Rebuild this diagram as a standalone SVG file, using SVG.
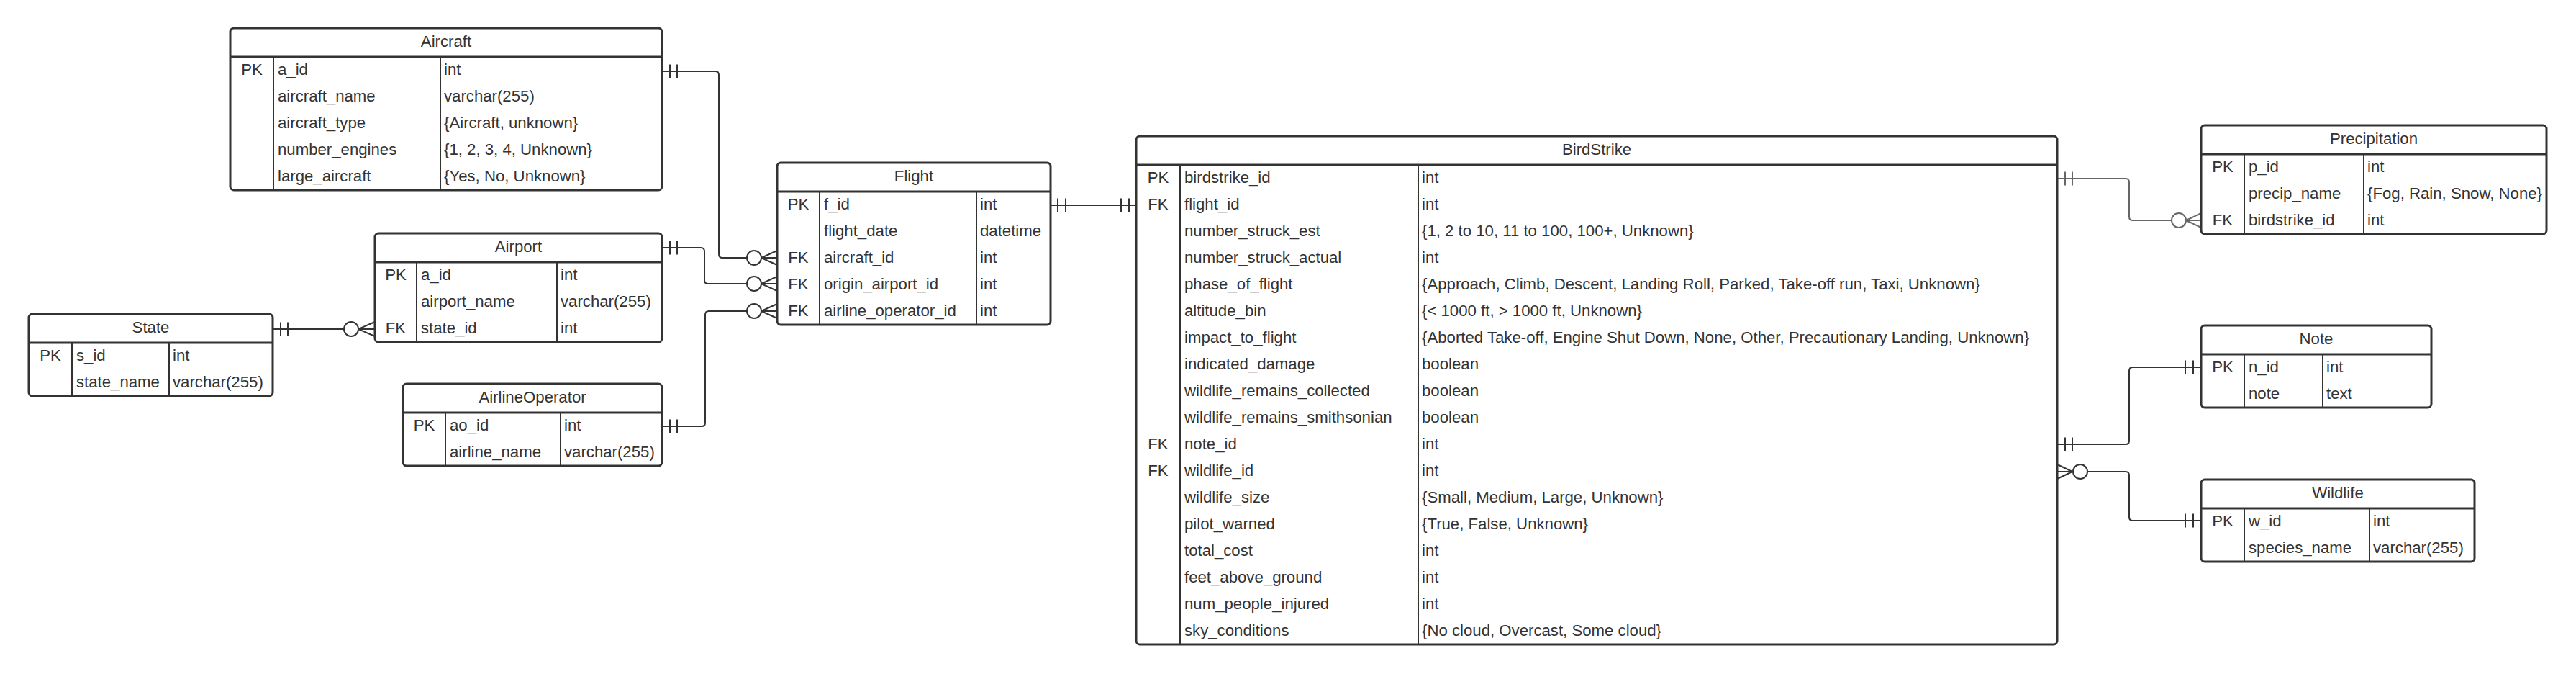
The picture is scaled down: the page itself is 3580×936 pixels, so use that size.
<svg xmlns="http://www.w3.org/2000/svg" width="3580" height="936" viewBox="0 0 3580 936">
<style>
.box{fill:#fff;stroke:#333;stroke-width:3}
.hl{stroke:#333;stroke-width:3}
.dv{stroke:#333;stroke-width:2}
text{font-family:"Liberation Sans",Arial,sans-serif;font-size:22.2px;fill:#333}
.m{text-anchor:middle}
.c{fill:none;stroke:#333;stroke-width:2;stroke-linejoin:round}
.cg{fill:none;stroke:#666;stroke-width:2;stroke-linejoin:round}
.o{fill:#fff;stroke:#333;stroke-width:2}
.og{fill:#fff;stroke:#666;stroke-width:2}
</style>
<rect width="3580" height="936" fill="#fff"/>

<g id="connectors">
  <!-- Aircraft -> Flight -->
  <path class="c" d="M920,99 H994 Q999,99 999,104 V353 Q999,358 1004,358 H1038"/>
  <path class="c" d="M931,89.5 V108.5 M941,89.5 V108.5"/>
  <circle class="o" cx="1048" cy="358" r="10"/>
  <path class="c" d="M1058,358 L1080,348 M1058,358 H1080 M1058,358 L1080,368"/>
  <!-- Airport -> Flight -->
  <path class="c" d="M920,344 H974 Q979,344 979,349 V389 Q979,394 984,394 H1038"/>
  <path class="c" d="M931,334.5 V353.5 M941,334.5 V353.5"/>
  <circle class="o" cx="1048" cy="394" r="10"/>
  <path class="c" d="M1058,394 L1080,384 M1058,394 H1080 M1058,394 L1080,404"/>
  <!-- AirlineOperator -> Flight -->
  <path class="c" d="M920,592 H975 Q980,592 980,587 V437 Q980,432 985,432 H1038"/>
  <path class="c" d="M931,582.5 V601.5 M941,582.5 V601.5"/>
  <circle class="o" cx="1048" cy="432" r="10"/>
  <path class="c" d="M1058,432 L1080,422 M1058,432 H1080 M1058,432 L1080,442"/>
  <!-- State -> Airport -->
  <path class="c" d="M379,457 H478"/>
  <path class="c" d="M390,447.5 V466.5 M400,447.5 V466.5"/>
  <circle class="o" cx="488" cy="457" r="10"/>
  <path class="c" d="M498,457 L521,447 M498,457 H521 M498,457 L521,467"/>
  <!-- Flight -> BirdStrike -->
  <path class="c" d="M1460,285 H1579"/>
  <path class="c" d="M1470,275.5 V294.5 M1481,275.5 V294.5 M1558,275.5 V294.5 M1569,275.5 V294.5"/>
  <!-- BirdStrike -> Precipitation -->
  <path class="cg" d="M2859,248 H2954 Q2959,248 2959,253 V301 Q2959,306 2964,306 H3018"/>
  <path class="cg" d="M2870,238.5 V257.5 M2880,238.5 V257.5"/>
  <circle class="og" cx="3028" cy="306" r="10"/>
  <path class="cg" d="M3038,306 L3059,296 M3038,306 H3059 M3038,306 L3059,316"/>
  <!-- BirdStrike -> Note -->
  <path class="c" d="M2859,617 H2954 Q2959,617 2959,612 V515 Q2959,510 2964,510 H3059"/>
  <path class="c" d="M2870,607.5 V626.5 M2880,607.5 V626.5 M3037,500.5 V519.5 M3048,500.5 V519.5"/>
  <!-- BirdStrike -> Wildlife -->
  <path class="c" d="M2880,655 L2859,645 M2880,655 H2859 M2880,655 L2859,665"/>
  <circle class="o" cx="2891" cy="655" r="10"/>
  <path class="c" d="M2901,655 H2954 Q2959,655 2959,660 V718 Q2959,723 2964,723 H3059"/>
  <path class="c" d="M3037,713.5 V732.5 M3048,713.5 V732.5"/>
</g>

<g id="Aircraft">
  <rect class="box" x="320" y="39" width="600" height="225" rx="5"/>
  <line class="hl" x1="320" y1="79" x2="920" y2="79"/>
  <line class="dv" x1="380" y1="79" x2="380" y2="264"/>
  <line class="dv" x1="612" y1="79" x2="612" y2="264"/>
  <text class="m" x="620" y="65">Aircraft</text>
  <text class="m" x="350" y="104">PK</text>
  <text x="386" y="104">a_id</text><text x="617" y="104">int</text>
  <text x="386" y="141">aircraft_name</text><text x="617" y="141">varchar(255)</text>
  <text x="386" y="178">aircraft_type</text><text x="617" y="178">{Aircraft, unknown}</text>
  <text x="386" y="215">number_engines</text><text x="617" y="215">{1, 2, 3, 4, Unknown}</text>
  <text x="386" y="252">large_aircraft</text><text x="617" y="252">{Yes, No, Unknown}</text>
</g>

<g id="Airport">
  <rect class="box" x="521" y="324" width="399" height="151" rx="5"/>
  <line class="hl" x1="521" y1="364" x2="920" y2="364"/>
  <line class="dv" x1="579" y1="364" x2="579" y2="475"/>
  <line class="dv" x1="774" y1="364" x2="774" y2="475"/>
  <text class="m" x="720.5" y="350">Airport</text>
  <text class="m" x="550" y="389">PK</text>
  <text x="585" y="389">a_id</text><text x="779" y="389">int</text>
  <text x="585" y="426">airport_name</text><text x="779" y="426">varchar(255)</text>
  <text class="m" x="550" y="463">FK</text>
  <text x="585" y="463">state_id</text><text x="779" y="463">int</text>
</g>

<g id="State">
  <rect class="box" x="40" y="436" width="339" height="114" rx="5"/>
  <line class="hl" x1="40" y1="476" x2="379" y2="476"/>
  <line class="dv" x1="100" y1="476" x2="100" y2="550"/>
  <line class="dv" x1="235" y1="476" x2="235" y2="550"/>
  <text class="m" x="209.5" y="462">State</text>
  <text class="m" x="70" y="501">PK</text>
  <text x="106" y="501">s_id</text><text x="240" y="501">int</text>
  <text x="106" y="538">state_name</text><text x="240" y="538">varchar(255)</text>
</g>

<g id="AirlineOperator">
  <rect class="box" x="560" y="533" width="360" height="114" rx="5"/>
  <line class="hl" x1="560" y1="573" x2="920" y2="573"/>
  <line class="dv" x1="619" y1="573" x2="619" y2="647"/>
  <line class="dv" x1="779" y1="573" x2="779" y2="647"/>
  <text class="m" x="740" y="559">AirlineOperator</text>
  <text class="m" x="589.5" y="598">PK</text>
  <text x="625" y="598">ao_id</text><text x="784" y="598">int</text>
  <text x="625" y="635">airline_name</text><text x="784" y="635">varchar(255)</text>
</g>

<g id="Flight">
  <rect class="box" x="1080" y="226" width="380" height="225" rx="5"/>
  <line class="hl" x1="1080" y1="266" x2="1460" y2="266"/>
  <line class="dv" x1="1139" y1="266" x2="1139" y2="451"/>
  <line class="dv" x1="1357" y1="266" x2="1357" y2="451"/>
  <text class="m" x="1270" y="252">Flight</text>
  <text class="m" x="1109.5" y="291">PK</text>
  <text x="1145" y="291">f_id</text><text x="1362" y="291">int</text>
  <text x="1145" y="328">flight_date</text><text x="1362" y="328">datetime</text>
  <text class="m" x="1109.5" y="365">FK</text>
  <text x="1145" y="365">aircraft_id</text><text x="1362" y="365">int</text>
  <text class="m" x="1109.5" y="402">FK</text>
  <text x="1145" y="402">origin_airport_id</text><text x="1362" y="402">int</text>
  <text class="m" x="1109.5" y="439">FK</text>
  <text x="1145" y="439">airline_operator_id</text><text x="1362" y="439">int</text>
</g>

<g id="BirdStrike">
  <rect class="box" x="1579" y="189" width="1280" height="706" rx="5"/>
  <line class="hl" x1="1579" y1="229" x2="2859" y2="229"/>
  <line class="dv" x1="1640" y1="229" x2="1640" y2="895"/>
  <line class="dv" x1="1971" y1="229" x2="1971" y2="895"/>
  <text class="m" x="2219" y="215">BirdStrike</text>
  <text class="m" x="1609.5" y="254">PK</text>
  <text x="1646" y="254">birdstrike_id</text><text x="1976" y="254">int</text>
  <text class="m" x="1609.5" y="291">FK</text>
  <text x="1646" y="291">flight_id</text><text x="1976" y="291">int</text>
  <text x="1646" y="328">number_struck_est</text><text x="1976" y="328">{1, 2 to 10, 11 to 100, 100+, Unknown}</text>
  <text x="1646" y="365">number_struck_actual</text><text x="1976" y="365">int</text>
  <text x="1646" y="402">phase_of_flight</text><text x="1976" y="402">{Approach, Climb, Descent, Landing Roll, Parked, Take-off run, Taxi, Unknown}</text>
  <text x="1646" y="439">altitude_bin</text><text x="1976" y="439">{&lt; 1000 ft, &gt; 1000 ft, Unknown}</text>
  <text x="1646" y="476">impact_to_flight</text><text x="1976" y="476">{Aborted Take-off, Engine Shut Down, None, Other, Precautionary Landing, Unknown}</text>
  <text x="1646" y="513">indicated_damage</text><text x="1976" y="513">boolean</text>
  <text x="1646" y="550">wildlife_remains_collected</text><text x="1976" y="550">boolean</text>
  <text x="1646" y="587">wildlife_remains_smithsonian</text><text x="1976" y="587">boolean</text>
  <text class="m" x="1609.5" y="624">FK</text>
  <text x="1646" y="624">note_id</text><text x="1976" y="624">int</text>
  <text class="m" x="1609.5" y="661">FK</text>
  <text x="1646" y="661">wildlife_id</text><text x="1976" y="661">int</text>
  <text x="1646" y="698">wildlife_size</text><text x="1976" y="698">{Small, Medium, Large, Unknown}</text>
  <text x="1646" y="735">pilot_warned</text><text x="1976" y="735">{True, False, Unknown}</text>
  <text x="1646" y="772">total_cost</text><text x="1976" y="772">int</text>
  <text x="1646" y="809">feet_above_ground</text><text x="1976" y="809">int</text>
  <text x="1646" y="846">num_people_injured</text><text x="1976" y="846">int</text>
  <text x="1646" y="883">sky_conditions</text><text x="1976" y="883">{No cloud, Overcast, Some cloud}</text>
</g>

<g id="Precipitation">
  <rect class="box" x="3059" y="174" width="480" height="151" rx="5"/>
  <line class="hl" x1="3059" y1="214" x2="3539" y2="214"/>
  <line class="dv" x1="3119" y1="214" x2="3119" y2="325"/>
  <line class="dv" x1="3285" y1="214" x2="3285" y2="325"/>
  <text class="m" x="3299" y="200">Precipitation</text>
  <text class="m" x="3089" y="239">PK</text>
  <text x="3125" y="239">p_id</text><text x="3290" y="239">int</text>
  <text x="3125" y="276">precip_name</text><text x="3290" y="276">{Fog, Rain, Snow, None}</text>
  <text class="m" x="3089" y="313">FK</text>
  <text x="3125" y="313">birdstrike_id</text><text x="3290" y="313">int</text>
</g>

<g id="Note">
  <rect class="box" x="3059" y="452" width="320" height="114" rx="5"/>
  <line class="hl" x1="3059" y1="492" x2="3379" y2="492"/>
  <line class="dv" x1="3119" y1="492" x2="3119" y2="566"/>
  <line class="dv" x1="3228" y1="492" x2="3228" y2="566"/>
  <text class="m" x="3219" y="478">Note</text>
  <text class="m" x="3089" y="517">PK</text>
  <text x="3125" y="517">n_id</text><text x="3233" y="517">int</text>
  <text x="3125" y="554">note</text><text x="3233" y="554">text</text>
</g>

<g id="Wildlife">
  <rect class="box" x="3059" y="666" width="380" height="114" rx="5"/>
  <line class="hl" x1="3059" y1="706" x2="3439" y2="706"/>
  <line class="dv" x1="3119" y1="706" x2="3119" y2="780"/>
  <line class="dv" x1="3293" y1="706" x2="3293" y2="780"/>
  <text class="m" x="3249" y="692">Wildlife</text>
  <text class="m" x="3089" y="731">PK</text>
  <text x="3125" y="731">w_id</text><text x="3298" y="731">int</text>
  <text x="3125" y="768">species_name</text><text x="3298" y="768">varchar(255)</text>
</g>
</svg>
